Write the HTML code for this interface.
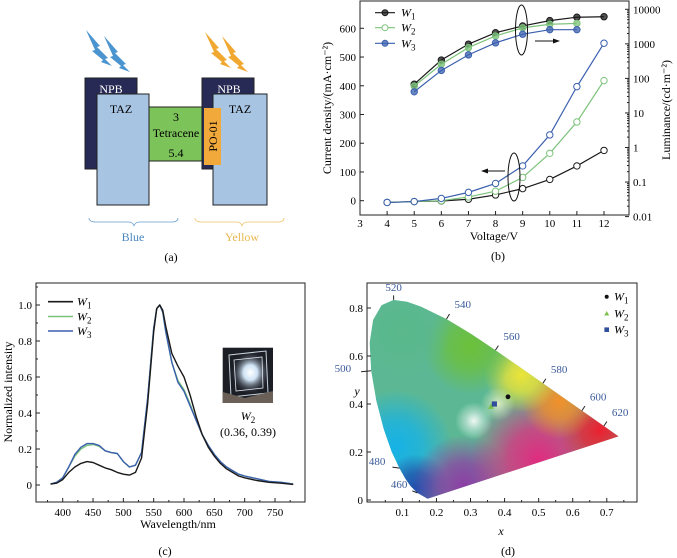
<!DOCTYPE html>
<html><head><meta charset="utf-8"><style>
html,body{margin:0;padding:0;background:#fff;}
svg{display:block;font-family:"Liberation Serif",serif;}
</style></head><body>
<svg id="fig" width="677" height="558" viewBox="0 0 677 558" xmlns="http://www.w3.org/2000/svg">
<defs id="defs">
  <radialGradient id="glow" cx="0.55" cy="0.45" r="0.4"><stop offset="0" stop-color="#fff"/><stop offset="0.35" stop-color="#cfe3f5"/><stop offset="1" stop-color="#1a1c24" stop-opacity="0"/></radialGradient>
  <clipPath id="locusClip"><path id="locusClipPath" d=""/></clipPath>
</defs>

<!-- Panel a -->
<g>
  <g fill="#4a94d0">
    <polygon points="86,30 100,46 97,47 108,58 105,59 112,66 101,62 103,60 92,51 95,50"/>
    <polygon points="104,36 118,52 115,53 126,64 123,65 130,72 119,68 121,66 110,57 113,56"/>
  </g>
  <g fill="#f0a830">
    <polygon points="205,32 219,48 216,49 227,60 224,61 231,68 220,64 222,62 211,53 214,52"/>
    <polygon points="222,36 236,52 233,53 244,64 241,65 248,72 237,68 239,66 228,57 231,56"/>
  </g>
  <rect x="85" y="78" width="52" height="91" fill="#272a55" stroke="#222" stroke-width="1"/>
  <text x="111" y="93" font-size="12" fill="#fff" text-anchor="middle">NPB</text>
  <rect x="97" y="94" width="52" height="111" fill="#a7c4e2" stroke="#222" stroke-width="1"/>
  <text x="121" y="113" font-size="12" text-anchor="middle">TAZ</text>
  <rect x="149" y="107" width="53" height="54" fill="#7cc35a" stroke="#222" stroke-width="1"/>
  <text x="176" y="121" font-size="12" text-anchor="middle">3</text>
  <text x="176" y="137" font-size="12" text-anchor="middle">Tetracene</text>
  <text x="176" y="157" font-size="12" text-anchor="middle">5.4</text>
  <rect x="202" y="78" width="52" height="91" fill="#272a55" stroke="#222" stroke-width="1"/>
  <text x="229" y="93" font-size="12" fill="#fff" text-anchor="middle">NPB</text>
  <rect x="213" y="94" width="54" height="111" fill="#a7c4e2" stroke="#222" stroke-width="1"/>
  <text x="240" y="113" font-size="12" text-anchor="middle">TAZ</text>
  <rect x="204" y="108" width="17" height="57" fill="#f2a93b"/>
  <text transform="translate(217,136) rotate(-90)" font-size="12" text-anchor="middle">PO-01</text>
  <path d="M89,218 Q89,222 96,222 L128,222 Q133,222 134,226 Q135,222 140,222 L172,222 Q178,222 178,218" fill="none" stroke="#6a9fd0" stroke-width="0.8"/>
  <path d="M195,218 Q195,222 202,222 L236,222 Q241,222 242,226 Q243,222 248,222 L278,222 Q284,222 284,218" fill="none" stroke="#eec36a" stroke-width="0.8"/>
  <text x="133" y="241" font-size="12" fill="#4a86c0" text-anchor="middle">Blue</text>
  <text x="242" y="241" font-size="12" fill="#e8b850" text-anchor="middle">Yellow</text>
  <text x="171" y="261" font-size="12" text-anchor="middle">(a)</text>
</g>

<g id="panelB"></g>
<g id="panelC"></g>
<g id="panelD"></g>
</svg>
<script>
// ---------- Panel b data ----------
const voltages = [4,5,6,7,8,9,10,11,12];
const jW1 = [-6,-3,-1,5,20,42,74,121,175];
const jW2 = [-6,-3,0,13,33,81,165,274,418];
const jW3 = [-6,-3,8,29,60,121,229,397,548];
const lumVolt = [5,6,7,8,9,10,11,12];
const lumW1 = [68,340,980,2100,3300,4700,5900,6100];
const lumW2 = [60,257,780,1700,2900,3700,3900];
const lumW3 = [41,170,480,1070,1900,2570,2570];
const bXTicks = [3,4,5,6,7,8,9,10,11,12];
const bJTicks = [0,100,200,300,400,500,600];
const bLTicks = [0.01,0.1,1,10,100,1000,10000];
const bLTickLabels = ["0.01","0.1","1","10","100","1000","10000"];

// ---------- Panel c data ----------
const wl = [380,390,400,410,420,430,440,450,460,470,480,490,500,510,520,530,540,550,555,560,565,570,580,590,600,610,620,630,640,650,660,670,680,690,700,720,740,760,780];
const specW1 = [0.005,0.01,0.03,0.07,0.1,0.12,0.13,0.125,0.11,0.095,0.085,0.07,0.06,0.055,0.07,0.15,0.45,0.85,0.98,1.0,0.97,0.88,0.73,0.66,0.6,0.5,0.38,0.28,0.21,0.16,0.12,0.09,0.07,0.05,0.04,0.025,0.015,0.01,0.003];
const specW2 = [0.005,0.015,0.04,0.1,0.16,0.2,0.22,0.225,0.215,0.19,0.18,0.175,0.13,0.1,0.11,0.18,0.48,0.87,0.98,1.0,0.96,0.85,0.68,0.58,0.53,0.45,0.36,0.28,0.22,0.17,0.13,0.1,0.08,0.06,0.05,0.035,0.02,0.015,0.005];
const specW3 = [0.005,0.015,0.04,0.1,0.17,0.21,0.23,0.23,0.22,0.19,0.18,0.175,0.13,0.1,0.11,0.18,0.48,0.87,0.98,1.0,0.96,0.85,0.68,0.57,0.52,0.44,0.36,0.28,0.22,0.17,0.13,0.1,0.08,0.06,0.05,0.035,0.02,0.015,0.005];
const cXTicks = [400,450,500,550,600,650,700,750];
const cYTicks = [0,0.2,0.4,0.6,0.8,1.0];
const cYTickLabels = ["0","0.2","0.4","0.6","0.8","1.0"];

// ---------- Panel d data ----------
const locusX = [0.1741,0.1440,0.1241,0.1096,0.0913,0.0687,0.0454,0.0235,0.0082,0.0039,0.0139,0.0389,0.0743,0.1142,0.1547,0.2296,0.3016,0.3731,0.4441,0.5125,0.5752,0.6270,0.6915,0.7190,0.7347];
const locusY = [0.0050,0.0297,0.0578,0.0868,0.1327,0.2007,0.2950,0.4127,0.5384,0.6548,0.7502,0.8120,0.8338,0.8262,0.8059,0.7543,0.6923,0.6245,0.5547,0.4866,0.4242,0.3725,0.3083,0.2809,0.2653];
const wlLabels = ["460","480","500","520","540","560","580","600","620"];
const wlLabelX = [0.144,0.0913,0.0082,0.0743,0.2296,0.3731,0.5125,0.627,0.6915];
const wlLabelY = [0.0297,0.1327,0.5384,0.8338,0.7543,0.6245,0.4866,0.3725,0.3083];
const ciePointX = [0.41,0.36,0.37];
const ciePointY = [0.43,0.39,0.40];
const dXTicks = [0.1,0.2,0.3,0.4,0.5,0.6,0.7];
const dYTicks = [0,0.2,0.4,0.6,0.8];
const dYTickLabels = ["0","0.2","0.4","0.6","0.8"];

const NS = "http://www.w3.org/2000/svg";
function mk(parent, tag, attrs, text){
  const e = document.createElementNS(NS, tag);
  for (const k in attrs) e.setAttribute(k, attrs[k]);
  if (text !== undefined) e.textContent = text;
  parent.appendChild(e);
  return e;
}
const C1="#1a1a1a", C2="#7cc27a", C3="#3a5fae";

// ================= Panel b =================
(function(){
  const g = document.getElementById('panelB');
  const L=360,R=629,T=1,B=215;
  const x = v => L + (v-3)*(604-360)/9;
  const yJ = j => 200.7 - j*(172.4/600);
  const yL = l => 9.3 + (4 - Math.log10(l))*34.55;
  const frame = mk(g,'rect',{x:L,y:T,width:R-L,height:B-T,fill:'none',stroke:'#222','stroke-width':1});
  
  
  bXTicks.forEach(v=>{
    mk(g,'line',{x1:x(v),x2:x(v),y1:B,y2:B-4,stroke:'#222'});
    const t = mk(g,'text',{x:x(v),y:B+12,'font-size':11,'text-anchor':'middle'},String(v));
    
    
  });
  bJTicks.forEach(j=>{
    mk(g,'line',{x1:L,x2:L+4,y1:yJ(j),y2:yJ(j),stroke:'#222'});
    const t = mk(g,'text',{x:L-4,y:yJ(j)+4,'font-size':11,'text-anchor':'end'},String(j));
    
    
  });
  bLTicks.forEach((l,i)=>{
    mk(g,'line',{x1:R,x2:R-4,y1:yL(l),y2:yL(l),stroke:'#222'});
    for(let k=2;k<10 && i<bLTicks.length-1;k++){ const yy=yL(l*k); mk(g,'line',{x1:R,x2:R-2,y1:yy,y2:yy,stroke:'#222'}); }
    const t = mk(g,'text',{x:R+4,y:yL(l)+4,'font-size':11},bLTickLabels[i]);
    
    
  });
  const xt = mk(g,'text',{x:494,y:240,'font-size':12,'text-anchor':'middle'},'Voltage/V');
  
  
  const yt = mk(g,'text',{transform:'translate(331,108) rotate(-90)','font-size':12,'text-anchor':'middle'},'Current density/(mA·cm⁻²)');
  
  
  const yt2 = mk(g,'text',{transform:'translate(670,110) rotate(-90)','font-size':12,'text-anchor':'middle'},'Luminance/(cd·m⁻²)');
  
  
  const pl = mk(g,'text',{x:498,y:260,'font-size':12,'text-anchor':'middle'},'(b)');
  
  

  function series(xs, ys, yf, color, filled, name){
    const pts = ys.map((v,i)=>x(xs[i])+','+yf(v)).join(' ');
    const pln = mk(g,'polyline',{points:pts,fill:'none',stroke:color,'stroke-width':1.2});
    
    
    ys.forEach((v,i)=>{
      const c = mk(g,'circle',{cx:x(xs[i]),cy:yf(v),r:3.2,fill:filled?color:'#fff',stroke:color,'stroke-width':1,'fill-opacity':filled?0.75:1});
      
      
    });
  }
  series(voltages,jW1,yJ,C1,false,'current-w1');
  series(voltages,jW2,yJ,C2,false,'current-w2');
  series(voltages,jW3,yJ,C3,false,'current-w3');
  series(lumVolt,lumW1,yL,C1,true,'luminance-w1');
  series(lumVolt,lumW2,yL,C2,true,'luminance-w2');
  series(lumVolt,lumW3,yL,C3,true,'luminance-w3');
  mk(g,'ellipse',{cx:521.5,cy:30,rx:6,ry:25,fill:'none',stroke:'#111','stroke-width':1});
  mk(g,'line',{x1:535,x2:556,y1:41,y2:41,stroke:'#111'});
  mk(g,'polygon',{points:'560,41 553,38.5 553,43.5',fill:'#111'});
  mk(g,'ellipse',{cx:514,cy:177,rx:6,ry:24,fill:'none',stroke:'#111','stroke-width':1});
  mk(g,'line',{x1:505,x2:485,y1:171,y2:171,stroke:'#111'});
  mk(g,'polygon',{points:'481,171 488,168.5 488,173.5',fill:'#111'});
  [[C1,'1',12.7,true],[C2,'2',27.7,false],[C3,'3',43.3,true]].forEach(([c,s,yy,f])=>{
    const ln = mk(g,'line',{x1:375,x2:395,y1:yy,y2:yy,stroke:c,'stroke-width':1.2});
    
    
    mk(g,'circle',{cx:385,cy:yy,r:3,fill:f?c:'#fff',stroke:c,'fill-opacity':f?0.75:1});
    const t = mk(g,'text',{x:401,y:yy+4,'font-size':12,'font-style':'italic'});
    
    
    t.innerHTML = 'W<tspan dy="3" font-size="9" font-style="normal">'+s+'</tspan>';
  });
})();

// ================= Panel c =================
(function(){
  const g = document.getElementById('panelC');
  const L=36,R=305,T=283,B=502;
  const x = w => 62.7 + (w-400)*(212.3/350);
  const y = v => 485 - v*180;
  const frame = mk(g,'rect',{x:L,y:T,width:R-L,height:B-T,fill:'none',stroke:'#222'});
  
  
  for(let w=375; w<=775; w+=25){ const big = w%50===0; mk(g,'line',{x1:x(w),x2:x(w),y1:B,y2:B-(big?4:2),stroke:'#222'}); }
  cXTicks.forEach(w=>{
    const t = mk(g,'text',{x:x(w),y:B+14,'font-size':11,'text-anchor':'middle'},String(w));
    
    
  });
  cYTicks.forEach((v,i)=>{
    mk(g,'line',{x1:L,x2:L+4,y1:y(v),y2:y(v),stroke:'#222'});
    mk(g,'line',{x1:L,x2:L+2,y1:y(v+0.1),y2:y(v+0.1),stroke:'#222'});
    const t = mk(g,'text',{x:L-4,y:y(v)+4,'font-size':11,'text-anchor':'end'},cYTickLabels[i]);
    
    
  });
  const xt = mk(g,'text',{x:178,y:528,'font-size':12,'text-anchor':'middle'},'Wavelength/nm');
  
  
  const yt = mk(g,'text',{transform:'translate(12,392) rotate(-90)','font-size':12,'text-anchor':'middle'},'Normalized intensity');
  
  
  const pl = mk(g,'text',{x:165,y:555,'font-size':12,'text-anchor':'middle'},'(c)');
  
  
  [[specW2,C2,'spectrum-w2'],[specW3,C3,'spectrum-w3'],[specW1,C1,'spectrum-w1']].forEach(([s,c,n])=>{
    const p = mk(g,'polyline',{points:s.map((v,i)=>x(wl[i])+','+y(v)).join(' '),fill:'none',stroke:c,'stroke-width':1.4,'stroke-linejoin':'round'});
    
    
  });
  [[C1,'1',301.7],[C2,'2',316.5],[C3,'3',331]].forEach(([c,s,yy])=>{
    const ln = mk(g,'line',{x1:48,x2:73,y1:yy,y2:yy,stroke:c,'stroke-width':1.6});
    
    
    const t = mk(g,'text',{x:77,y:yy+4,'font-size':12,'font-style':'italic'});
    
    
    t.innerHTML = 'W<tspan dy="3" font-size="9" font-style="normal">'+s+'</tspan>';
  });
  const ph = mk(g,'g',{});
  
  
  mk(ph,'rect',{x:222.7,y:347.7,width:50.3,height:55.3,fill:'#1c1e26'});
  mk(ph,'rect',{x:222.7,y:347.7,width:50.3,height:55.3,fill:'url(#glow)'});
  mk(ph,'polygon',{points:'229,355 266,351 268,393 231,397',fill:'none',stroke:'#c8d4dc','stroke-width':1});
  mk(ph,'polygon',{points:'234,360 262,357 263,388 236,391',fill:'none',stroke:'#e0e8ee','stroke-width':0.8});
  mk(ph,'polygon',{points:'222.7,392 245,398 273,391 273,403 222.7,403',fill:'#6a6058'});
  const w2 = mk(g,'text',{x:248,y:420,'font-size':12,'font-style':'italic','text-anchor':'middle'});
  
  
  w2.innerHTML = 'W<tspan dy="3" font-size="9" font-style="normal">2</tspan>';
  const cc = mk(g,'text',{x:248,y:436,'font-size':12,'text-anchor':'middle'},'(0.36, 0.39)');
  
  
})();

// ================= Panel d =================
(function(){
  const g = document.getElementById('panelD');
  const defs = document.getElementById('defs');
  const L=367,R=637,T=283,B=502;
  const x = v => 368.3 + v*340.7;
  const y = v => 500 - v*240;
  const d = 'M'+locusX.map((v,i)=>x(v)+','+y(locusY[i])).join(' L')+' Z';
  document.getElementById('locusClipPath').setAttribute('d',d);
  const fillG = mk(g,'g',{'clip-path':'url(#locusClip)'});
  
  
  mk(fillG,'path',{d:d,fill:'#5cb894'});
  const blobs = [
    [0.08,0.22,0.17,'#16b2e6'],[0.14,0.05,0.10,'#1f4fae'],[0.28,0.06,0.15,'#8c3ea4'],
    [0.50,0.17,0.20,'#e02c80'],[0.68,0.29,0.12,'#ec2030'],[0.56,0.41,0.11,'#f2902a'],
    [0.45,0.52,0.11,'#ece438'],[0.30,0.64,0.14,'#6cc03a'],[0.10,0.70,0.14,'#5ab88c'],
    [0.38,0.40,0.05,'#eef0c8'],[0.31,0.33,0.055,'#ffffff']];
  blobs.forEach((b,i)=>{
    const gr = mk(defs,'radialGradient',{id:'blob'+i});
    const last = i>=9;
    mk(gr,'stop',{offset:0,'stop-color':b[3],'stop-opacity':last?0.9:1});
    mk(gr,'stop',{offset:0.45,'stop-color':b[3],'stop-opacity':last?0.45:0.75});
    mk(gr,'stop',{offset:1,'stop-color':b[3],'stop-opacity':0});
    mk(fillG,'circle',{cx:x(b[0]),cy:y(b[1]),r:b[2]*340,fill:'url(#blob'+i+')'});
  });
  const frame = mk(g,'rect',{x:L,y:T,width:R-L,height:B-T,fill:'none',stroke:'#222'});
  
  
  for(let v=0.05; v<0.76; v+=0.05){ const big=Math.abs(v*10-Math.round(v*10))<1e-6; mk(g,'line',{x1:x(v),x2:x(v),y1:B,y2:B-(big?4:2),stroke:'#222'}); }
  dXTicks.forEach(v=>{
    const t = mk(g,'text',{x:x(v),y:B+14,'font-size':11,'text-anchor':'middle'},String(v));
    
    
  });
  dYTicks.forEach((v,i)=>{
    mk(g,'line',{x1:L,x2:L+4,y1:y(v),y2:y(v),stroke:'#222'});
    const t = mk(g,'text',{x:L-4,y:y(v)+4,'font-size':11,'text-anchor':'end'},dYTickLabels[i]);
    
    
  });
  const offs = [[-10,-4],[-14,-2],[-20,2],[0,-9],[6,-10],[6,-9],[6,-9],[6,-9],[6,-9]];
  wlLabels.forEach((s,i)=>{
    const px=x(wlLabelX[i]), py=y(wlLabelY[i]);
    const o=offs[i];
    mk(g,'line',{x1:px,y1:py,x2:px+o[0]*0.5,y2:py+o[1]*0.5,stroke:'#222'});
    const t = mk(g,'text',{x:px+o[0]+(o[0]>=0?(i===3?0:2):0),y:py+o[1]-(i===3?0:1),'font-size':11,fill:'#3a5a9a','text-anchor':o[0]<0?'end':(i===3?'middle':'start')},s);
    
    
  });
  const xt = mk(g,'text',{x:501,y:535,'font-size':12,'font-style':'italic','text-anchor':'middle'},'x');
  
  
  const yt = mk(g,'text',{x:357,y:395,'font-size':12,'font-style':'italic','text-anchor':'middle'},'y');
  
  
  const pl = mk(g,'text',{x:508,y:555,'font-size':12,'text-anchor':'middle'},'(d)');
  
  
  const p1 = mk(g,'circle',{cx:x(ciePointX[0]),cy:y(ciePointY[0]),r:2.4,fill:'#111'});
  
  
  const p2x=x(ciePointX[1]), p2y=y(ciePointY[1]);
  const p2 = mk(g,'polygon',{points:`${p2x},${p2y-3} ${p2x-3},${p2y+2.5} ${p2x+3},${p2y+2.5}`,fill:'#7cc24a'});
  
  
  const p3 = mk(g,'rect',{x:x(ciePointX[2])-2.6,y:y(ciePointY[2])-2.6,width:5.2,height:5.2,fill:'#2f4f9a'});
  
  
  const lx=606.7;
  mk(g,'circle',{cx:lx,cy:296.7,r:2,fill:'#111'});
  mk(g,'polygon',{points:`${lx},311 ${lx-2.5},315.5 ${lx+2.5},315.5`,fill:'#7cc24a'});
  mk(g,'rect',{x:lx-2.3,y:327.4,width:4.6,height:4.6,fill:'#2f4f9a'});
  [['1',296.7],['2',313.7],['3',329.7]].forEach(([s,yy])=>{
    const t = mk(g,'text',{x:614,y:yy+4,'font-size':12,'font-style':'italic'});
    
    
    t.innerHTML = 'W<tspan dy="3" font-size="9" font-style="normal">'+s+'</tspan>';
  });
})();
</script>
</body></html>
